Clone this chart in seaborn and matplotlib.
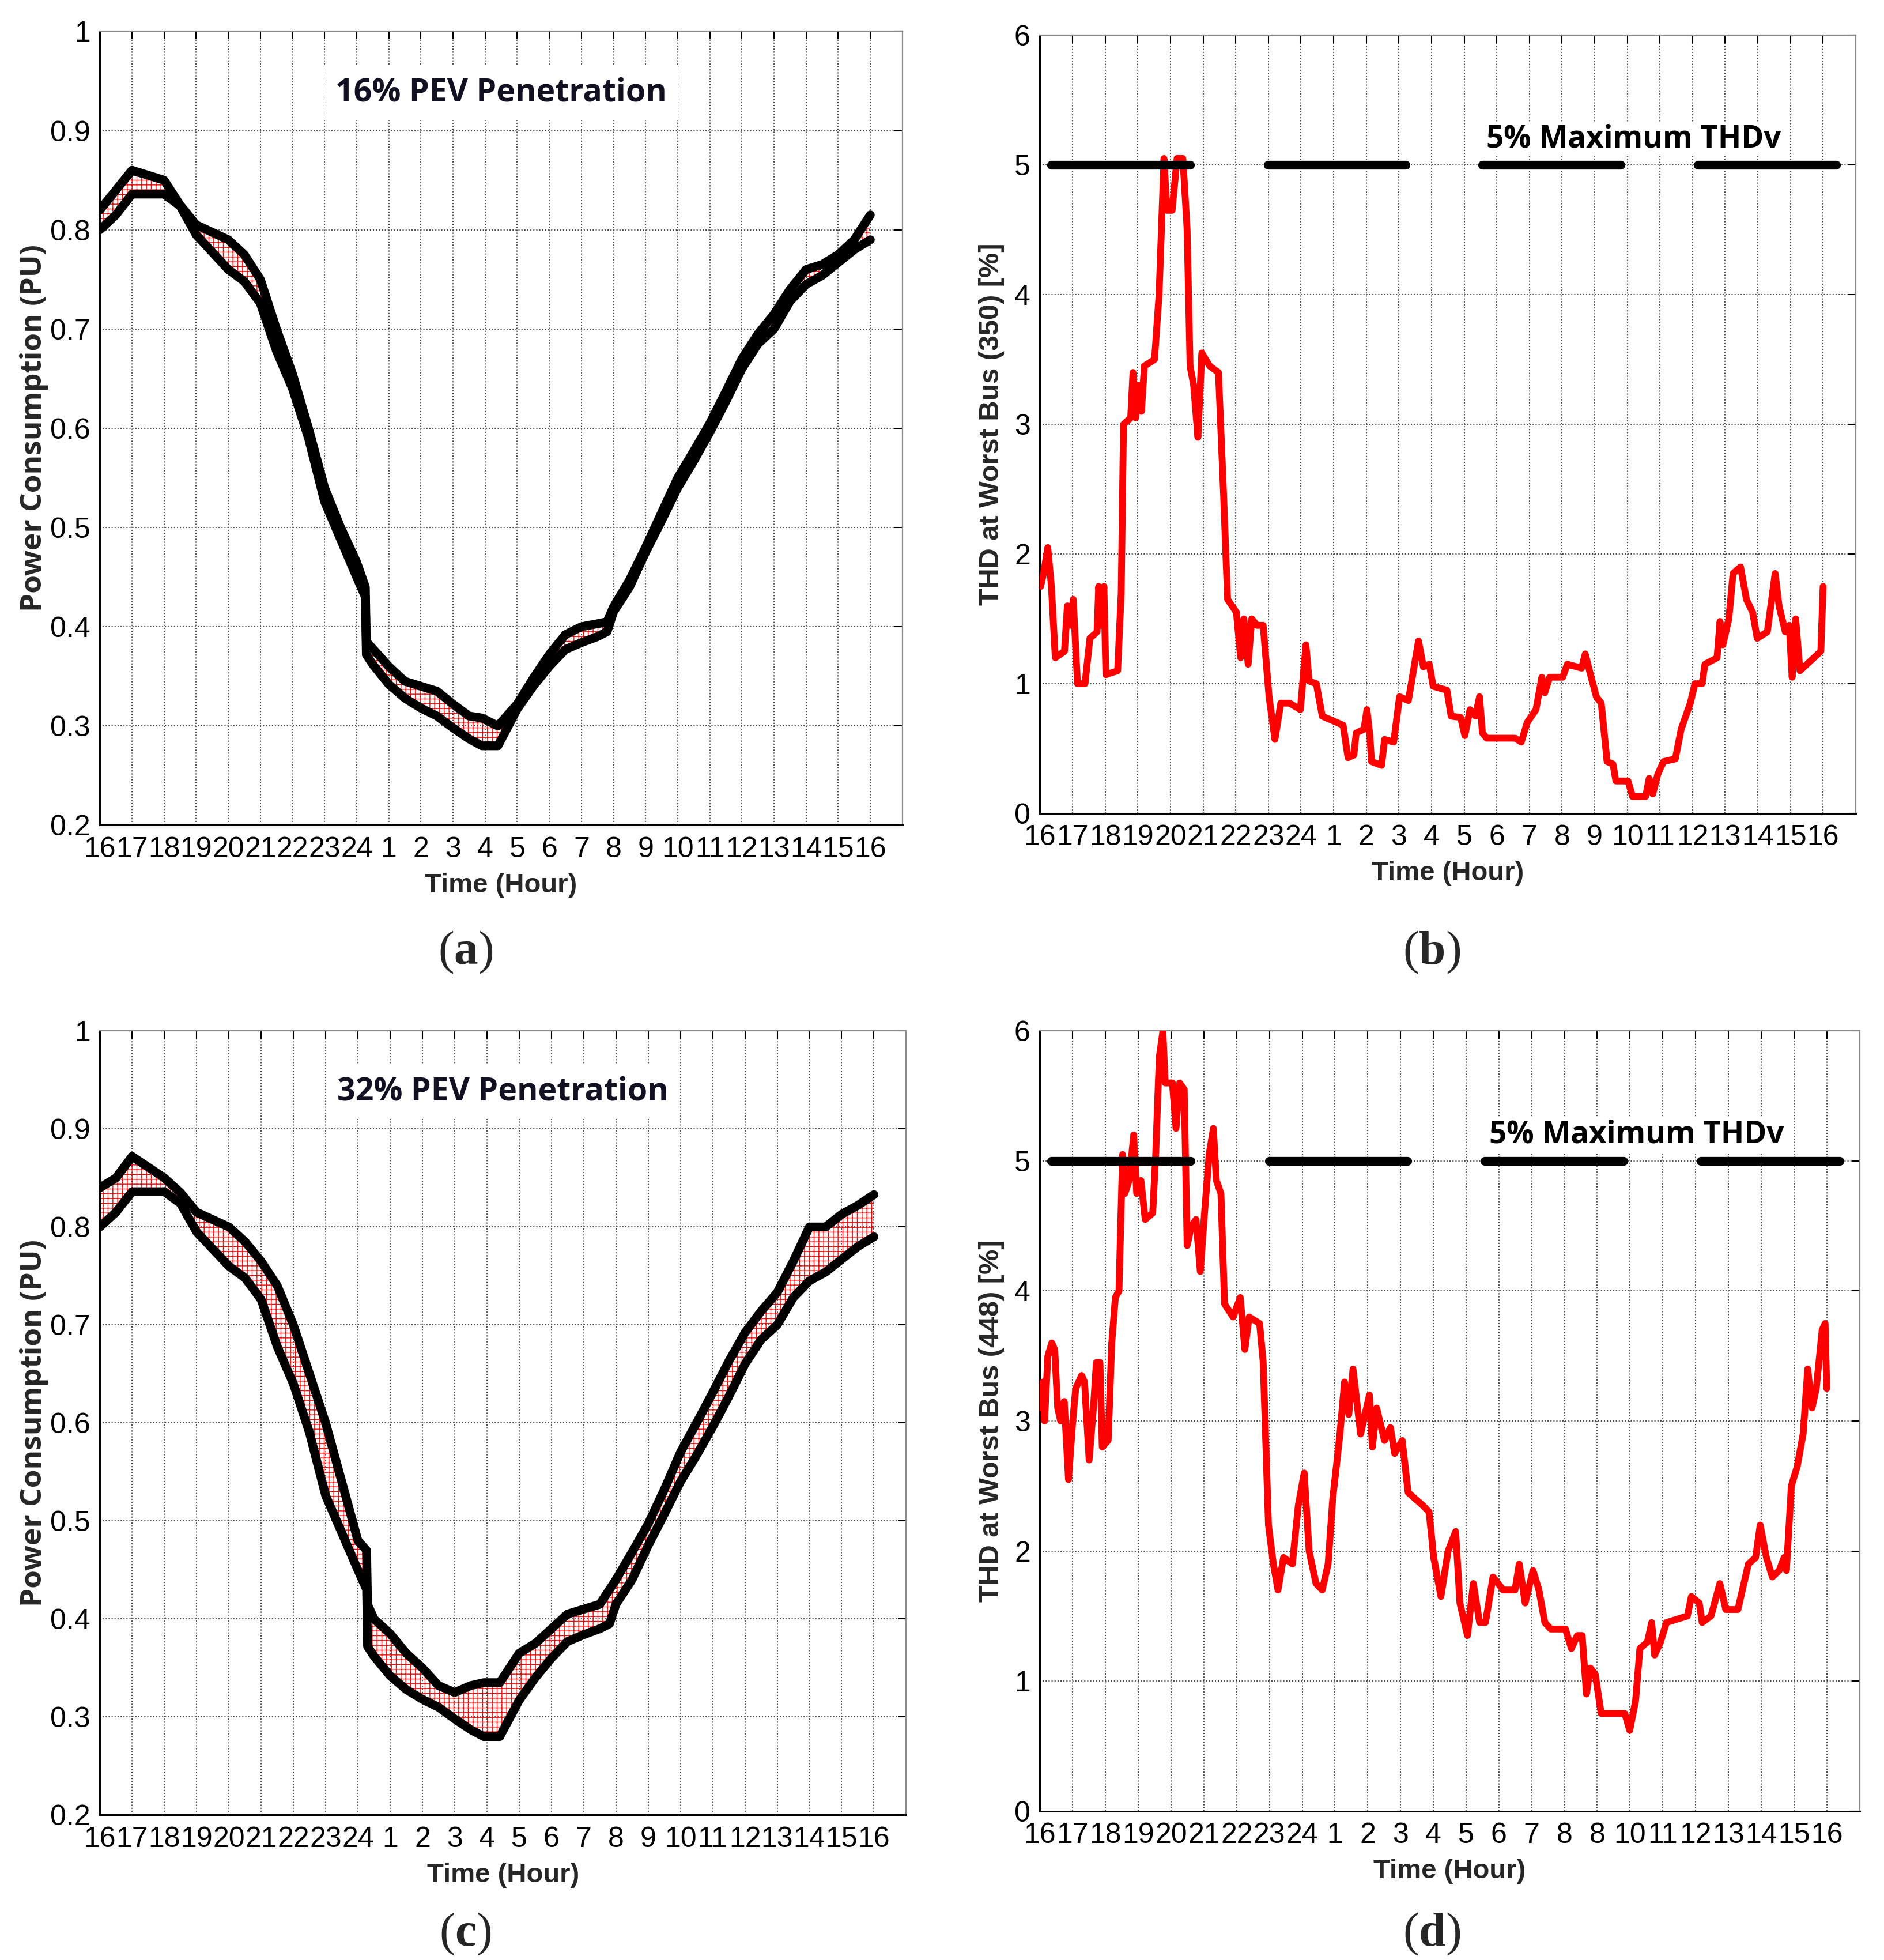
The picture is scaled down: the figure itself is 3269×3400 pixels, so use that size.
import matplotlib
matplotlib.use("Agg")
import matplotlib.pyplot as plt
import seaborn as sns

# hours counted from 16:00 (0) to 16:00 next day (24)
base_hours = [0, 0.5, 1, 2, 2.5, 3, 4, 4.5, 5, 5.5, 6, 6.5, 7, 7.5, 8, 8.27, 8.3, 8.5,
              9, 9.5, 10, 10.5, 11, 11.5, 11.9, 12.4, 13, 13.5, 14, 14.5, 15, 15.5, 15.8,
              16, 16.5, 17, 17.5, 18, 18.5, 19, 19.5, 20, 20.5, 21, 21.5, 22, 22.5, 23, 23.5, 24]
base_load = [0.80, 0.815, 0.836, 0.836, 0.824, 0.795, 0.76, 0.748, 0.726, 0.678, 0.64, 0.59,
             0.526, 0.488, 0.45, 0.43, 0.372, 0.362, 0.342, 0.328, 0.318, 0.31, 0.298, 0.287,
             0.28, 0.28, 0.317, 0.34, 0.36, 0.377, 0.384, 0.39, 0.395, 0.415, 0.44, 0.475,
             0.507, 0.54, 0.567, 0.596, 0.627, 0.66, 0.685, 0.70, 0.728, 0.745, 0.754, 0.767,
             0.78, 0.79]
load_pev16 = [0.82, 0.84, 0.86, 0.85, 0.825, 0.805, 0.79, 0.775, 0.75, 0.70, 0.655, 0.60,
              0.54, 0.50, 0.465, 0.44, 0.385, 0.378, 0.36, 0.345, 0.34, 0.335, 0.322, 0.31,
              0.308, 0.30, 0.322, 0.348, 0.372, 0.392, 0.40, 0.403, 0.405, 0.42, 0.447, 0.48,
              0.515, 0.55, 0.577, 0.605, 0.637, 0.67, 0.695, 0.715, 0.74, 0.76, 0.765, 0.775,
              0.79, 0.815]
load_pev32 = [0.84, 0.85, 0.872, 0.85, 0.835, 0.815, 0.80, 0.785, 0.765, 0.74, 0.70, 0.65,
              0.60, 0.54, 0.48, 0.47, 0.415, 0.40, 0.385, 0.365, 0.35, 0.332, 0.325, 0.332,
              0.335, 0.335, 0.365, 0.375, 0.39, 0.405, 0.41, 0.415, 0.43, 0.44, 0.468, 0.497,
              0.532, 0.57, 0.60, 0.631, 0.663, 0.692, 0.714, 0.733, 0.765, 0.80, 0.80, 0.813,
              0.822, 0.833]

thd350_hours = [0.02, 0.11, 0.24, 0.35, 0.47, 0.75, 0.84, 0.93, 1.02, 1.15, 1.38, 1.53, 1.75,
                1.80, 1.87, 1.96, 2.02, 2.38, 2.49, 2.56, 2.78, 2.85, 2.93, 3.02, 3.11, 3.20,
                3.51, 3.65, 3.80, 3.89, 4.05, 4.20, 4.38, 4.51, 4.60, 4.71, 4.84, 4.96, 5.20,
                5.47, 5.62, 5.75, 6.02, 6.15, 6.25, 6.38, 6.49, 6.65, 6.84, 7.02, 7.20, 7.38,
                7.65, 7.98, 8.15, 8.25, 8.47, 8.65, 9.11, 9.29, 9.44, 9.62, 9.69, 9.93, 10.02,
                10.11, 10.16, 10.47, 10.56, 10.84, 11.02, 11.29, 11.60, 11.75, 11.93, 12.05,
                12.47, 12.60, 12.89, 13.02, 13.18, 13.35, 13.47, 13.56, 13.69, 14.56, 14.75,
                14.93, 15.20, 15.38, 15.47, 15.62, 16.02, 16.16, 16.60, 16.71, 16.84, 17.05,
                17.20, 17.38, 17.56, 17.65, 18.02, 18.16, 18.56, 18.67, 18.78, 18.93, 19.11,
                19.47, 19.65, 19.93, 20.07, 20.29, 20.38, 20.75, 20.84, 20.93, 21.11, 21.24,
                21.47, 21.65, 21.84, 21.98, 22.29, 22.53, 22.65, 22.84, 22.96, 23.05, 23.16,
                23.29, 23.93, 24.0]
thd350_values = [1.75, 1.85, 2.05, 1.75, 1.2, 1.25, 1.6, 1.45, 1.65, 1.0, 1.0, 1.35, 1.4,
                 1.75, 1.45, 1.75, 1.07, 1.1, 1.7, 3.0, 3.05, 3.4, 3.05, 3.3, 3.1, 3.45, 3.5,
                 4.0, 5.05, 4.65, 4.65, 5.05, 5.05, 4.5, 3.45, 3.3, 2.9, 3.55, 3.45, 3.4, 2.5,
                 1.65, 1.55, 1.2, 1.5, 1.15, 1.5, 1.45, 1.45, 0.9, 0.57, 0.85, 0.85, 0.8, 1.3,
                 1.02, 1.0, 0.75, 0.7, 0.68, 0.43, 0.45, 0.62, 0.65, 0.8, 0.6, 0.4, 0.37, 0.57,
                 0.55, 0.9, 0.87, 1.33, 1.13, 1.15, 0.98, 0.95, 0.75, 0.74, 0.6, 0.8, 0.75, 0.9,
                 0.62, 0.58, 0.58, 0.55, 0.7, 0.8, 1.05, 0.93, 1.05, 1.05, 1.15, 1.12, 1.23, 1.1,
                 0.9, 0.85, 0.4, 0.38, 0.25, 0.25, 0.13, 0.13, 0.27, 0.15, 0.3, 0.4, 0.42, 0.65,
                 0.85, 1.0, 1.0, 1.15, 1.2, 1.48, 1.3, 1.5, 1.85, 1.9, 1.65, 1.55, 1.35, 1.4,
                 1.85, 1.6, 1.4, 1.45, 1.05, 1.5, 1.1, 1.25, 1.75]

thd448_hours = [0.00, 0.09, 0.14, 0.24, 0.36, 0.45, 0.54, 0.63, 0.74, 0.87, 1.00, 1.09, 1.27,
                1.36, 1.50, 1.63, 1.72, 1.83, 1.90, 2.08, 2.19, 2.30, 2.41, 2.52, 2.59, 2.72,
                2.86, 2.95, 3.08, 3.21, 3.44, 3.53, 3.64, 3.75, 3.82, 4.04, 4.15, 4.26, 4.40,
                4.49, 4.62, 4.76, 4.89, 5.02, 5.16, 5.29, 5.38, 5.52, 5.63, 5.89, 6.11, 6.25,
                6.38, 6.70, 6.81, 6.97, 7.12, 7.26, 7.43, 7.70, 7.88, 8.06, 8.21, 8.42, 8.61,
                8.79, 8.93, 9.15, 9.29, 9.42, 9.55, 9.78, 10.05, 10.14, 10.27, 10.51, 10.69,
                10.82, 11.05, 11.23, 11.68, 11.87, 12.01, 12.23, 12.45, 12.68, 12.81, 13.04,
                13.22, 13.41, 13.59, 13.82, 14.13, 14.49, 14.62, 14.80, 15.04, 15.22, 15.40,
                15.58, 16.03, 16.21, 16.39, 16.54, 16.67, 16.79, 16.94, 17.12, 17.84, 17.99,
                18.17, 18.30, 18.53, 18.66, 18.75, 18.93, 19.11, 19.75, 19.87, 20.11, 20.20,
                20.47, 20.74, 20.92, 21.29, 21.61, 21.83, 21.97, 22.16, 22.34, 22.55, 22.70,
                22.77, 22.92, 23.10, 23.28, 23.42, 23.55, 23.68, 23.86, 23.95, 24.0]
thd448_values = [3.1, 3.3, 3.0, 3.5, 3.6, 3.55, 3.1, 3.0, 3.15, 2.55, 3.0, 3.25, 3.35, 3.3,
                 2.7, 3.1, 3.45, 3.45, 2.8, 2.85, 3.6, 3.95, 4.0, 5.05, 4.75, 4.85, 5.2, 4.75,
                 4.85, 4.55, 4.6, 5.05, 5.8, 6.0, 5.6, 5.6, 5.25, 5.6, 5.55, 4.35, 4.5, 4.55,
                 4.15, 4.6, 5.05, 5.25, 4.85, 4.75, 3.9, 3.8, 3.95, 3.55, 3.8, 3.75, 3.45, 2.2,
                 1.9, 1.7, 1.95, 1.9, 2.35, 2.6, 2.0, 1.75, 1.7, 1.9, 2.4, 2.9, 3.3, 3.05, 3.4,
                 2.9, 3.2, 2.8, 3.1, 2.85, 2.95, 2.75, 2.85, 2.45, 2.35, 2.3, 1.95, 1.65, 2.0,
                 2.15, 1.6, 1.35, 1.75, 1.45, 1.45, 1.8, 1.7, 1.7, 1.9, 1.6, 1.85, 1.7, 1.45,
                 1.4, 1.4, 1.25, 1.35, 1.35, 0.9, 1.1, 1.05, 0.75, 0.75, 0.62, 0.85, 1.25, 1.3,
                 1.45, 1.2, 1.3, 1.45, 1.5, 1.65, 1.6, 1.45, 1.5, 1.75, 1.55, 1.55, 1.9, 1.95,
                 2.2, 1.95, 1.8, 1.85, 1.95, 1.85, 2.5, 2.65, 2.9, 3.4, 3.1, 3.25, 3.7, 3.75,
                 3.25]

limit_starts = [0.35, 6.98, 13.56, 20.16]
limit_ends = [4.6, 11.2, 17.8, 24.4]

hour_labels = ['16', '17', '18', '19', '20', '21', '22', '23', '24', '1', '2', '3', '4', '5',
               '6', '7', '8', '9', '10', '11', '12', '13', '14', '15', '16']
hour_labels_d = ['16', '17', '18', '19', '20', '21', '22', '23', '24', '1', '2', '3', '4', '5',
                 '6', '7', '8', '8', '10', '11', '12', '13', '14', '15', '16']
pu_ticks = [0.2, 0.3, 0.4, 0.5, 0.6, 0.7, 0.8, 0.9, 1.0]
pu_labels = ['0.2', '0.3', '0.4', '0.5', '0.6', '0.7', '0.8', '0.9', '1']
thd_ticks = [0, 1, 2, 3, 4, 5, 6]

sns.set_theme(style="white")
plt.rcParams['font.family'] = ['Liberation Sans', 'DejaVu Sans']
plt.rcParams['hatch.linewidth'] = 1.0
plt.rcParams['hatch.color'] = 'red'
plt.rcParams['mathtext.fontset'] = 'custom'
plt.rcParams['mathtext.bf'] = 'Liberation Serif:bold'
plt.rcParams['mathtext.rm'] = 'Liberation Serif'

fig = plt.figure(figsize=(32.69, 34.0), dpi=100)
ax_a = fig.add_axes([0.053, 0.579, 0.426, 0.405])
ax_b = fig.add_axes([0.552, 0.585, 0.433, 0.397])
ax_c = fig.add_axes([0.053, 0.074, 0.428, 0.400])
ax_d = fig.add_axes([0.552, 0.076, 0.435, 0.398])


def style_axes(ax, yticks, ylabels, xlabels):
    ax.set_xlim(0, 25)
    ax.set_ylim(yticks[0], yticks[-1])
    ax.set_xticks(range(25))
    ax.set_xticklabels(xlabels)
    ax.set_yticks(yticks)
    ax.set_yticklabels(ylabels)
    ax.set_axisbelow(True)
    ax.grid(True, linestyle=':', color='#444444', linewidth=1.4)
    ax.tick_params(direction='in', length=10, width=1.5, top=True, right=True,
                   labelsize=36, colors='black')
    ax.tick_params(axis='x', pad=14)
    ax.tick_params(axis='y', pad=12)
    for side in ['left', 'bottom']:
        ax.spines[side].set_color('black')
        ax.spines[side].set_linewidth(2.2)
    for side in ['top', 'right']:
        ax.spines[side].set_color('#8c8c8c')
        ax.spines[side].set_linewidth(1.6)
    ax.set_xlabel('Time (Hour)', fontsize=34, fontweight='bold', labelpad=12)


def load_panel(ax, upper, title):
    ax.fill_between(base_hours, base_load, upper, facecolor='none', edgecolor='red',
                    hatch='++', linewidth=0, zorder=2)
    sns.lineplot(x=base_hours, y=base_load, ax=ax, color='black', linewidth=11,
                 sort=False, solid_joinstyle='round', solid_capstyle='round', zorder=3)
    sns.lineplot(x=base_hours, y=upper, ax=ax, color='black', linewidth=11,
                 sort=False, solid_joinstyle='round', solid_capstyle='round', zorder=3)
    style_axes(ax, pu_ticks, pu_labels, hour_labels)
    ax.set_ylabel('Power Consumption (PU)', fontsize=37, fontweight='bold',
                  family='Open Sans', labelpad=2)
    ax.text(12.5, 0.938, title, ha='center', va='center', fontsize=40, fontweight='bold',
            family='Open Sans', color='#111122', zorder=4,
            bbox=dict(facecolor='white', edgecolor='none', pad=14))


def thd_panel(ax, hours, values, ylabel, xlabels):
    sns.lineplot(x=hours, y=values, ax=ax, color='#ff0000', linewidth=8.5, sort=False,
                 solid_joinstyle='round', zorder=3)
    for s, e in zip(limit_starts, limit_ends):
        ax.plot([s, e], [5, 5], color='black', linewidth=11, solid_capstyle='round', zorder=3)
    style_axes(ax, thd_ticks, [str(t) for t in thd_ticks], xlabels)
    ax.set_ylabel(ylabel, fontsize=35, fontweight='bold', labelpad=12)
    ax.text(18.2, 5.2, '5% Maximum THDv', ha='center', va='center', fontsize=38,
            fontweight='bold', family='Open Sans', color='black', zorder=4,
            bbox=dict(facecolor='white', edgecolor='none', pad=2))


load_panel(ax_a, load_pev16, '16% PEV Penetration')
load_panel(ax_c, load_pev32, '32% PEV Penetration')
thd_panel(ax_b, thd350_hours, thd350_values, 'THD at Worst Bus (350) [%]', hour_labels)
thd_panel(ax_d, thd448_hours, thd448_values, 'THD at Worst Bus (448) [%]', hour_labels_d)

for x, y, letter in [(0.247, 0.514, 'a'), (0.76, 0.514, 'b'),
                     (0.247, 0.013, 'c'), (0.76, 0.013, 'd')]:
    fig.text(x, y, '($\\mathbf{' + letter + '}$)', ha='center', va='center', fontsize=60,
             family='Liberation Serif')

fig.savefig('out.png', dpi=100, facecolor='white')
